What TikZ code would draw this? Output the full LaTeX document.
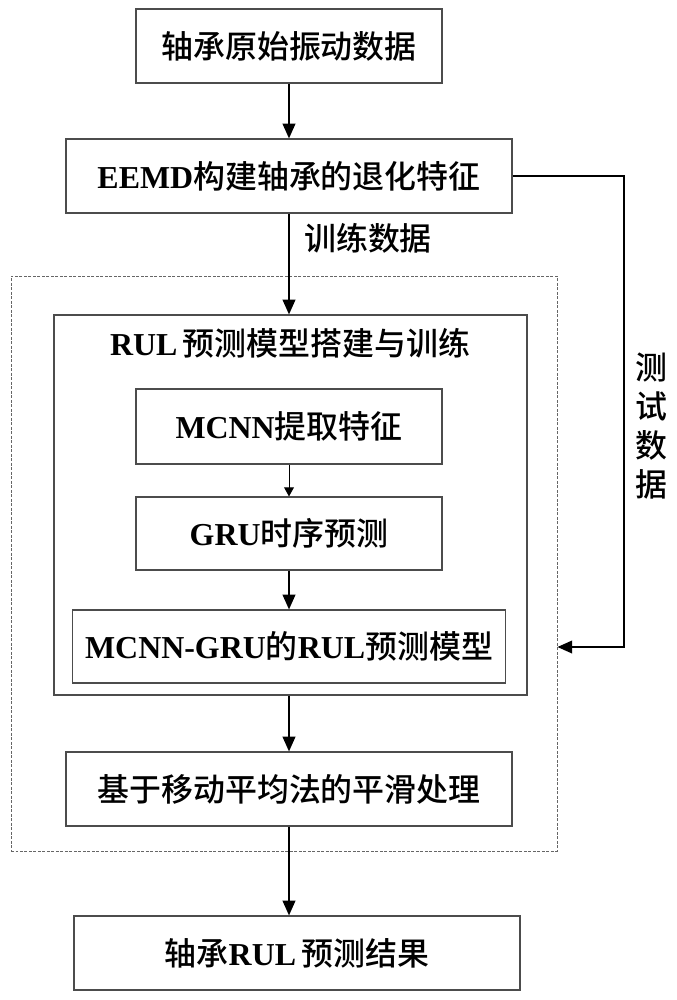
\documentclass[tikz,border=0pt]{standalone}
\usepackage{fontspec}
\setmainfont{Liberation Serif}
\newfontfamily\cjk{Noto Sans CJK SC}[BoldFont={Noto Sans CJK SC Medium}]
\usepackage{tikz}
\usetikzlibrary{positioning,arrows.meta,calc}

\newcommand{\zh}[1]{{\cjk\bfseries #1}}

\tikzset{
  flowbox/.style={draw=black!70, line width=0.8pt, minimum height=74*0.025cm,
    inner sep=0pt, font=\fontsize{22.7}{26}\selectfont\bfseries},
  flowarrow/.style={line width=1.3pt, -{Triangle[length=10.5pt,width=9pt]}},
  thinarrow/.style={line width=0.7pt, -{Triangle[length=6.5pt,width=7pt]}},
  lbl/.style={font=\fontsize{22.7}{27.7}\selectfont, inner sep=0pt}
}

\begin{document}
\begin{tikzpicture}[x=0.025cm, y=-0.025cm]
  \useasboundingbox (0,0) rectangle (677,1000);

  % dashed frame round model and smoothing
  \node[draw=black!60, dashed, dash pattern=on 2pt off 1.2pt, line width=0.6pt,
        minimum width=546*0.025cm, minimum height=575*0.025cm, inner sep=0pt]
        (frame) at (284,563.5) {};

  % training block
  \node[draw=black!70, line width=0.8pt, minimum width=473*0.025cm,
        minimum height=380*0.025cm, inner sep=0pt] (train) at (290.5,505) {};
  \node[lbl, font=\fontsize{22.7}{26}\selectfont\bfseries] (traintitle) at (290,343)
    {RUL\,\zh{预测模型搭建与训练}};

  % main steps
  \node[flowbox, minimum width=306*0.025cm] (raw) at (289,46) {\zh{轴承原始振动数据}};
  \node[flowbox, minimum width=446*0.025cm] (eemd) at (289,176) {EEMD\zh{构建轴承的退化特征}};
  \node[flowbox, minimum width=306*0.025cm, minimum height=75*0.025cm] (mcnn) at (289,426.5) {MCNN\zh{提取特征}};
  \node[flowbox, minimum width=306*0.025cm, minimum height=73*0.025cm] (gru) at (289,533.5) {GRU\zh{时序预测}};
  \node[flowbox, minimum width=433*0.025cm, minimum height=73*0.025cm] (model) at (289,646.5) {MCNN-GRU\zh{的}RUL\zh{预测模型}};
  \node[flowbox, minimum width=446*0.025cm] (smooth) at (289,789) {\zh{基于移动平均法的平滑处理}};
  \node[flowbox, minimum width=446*0.025cm] (result) at (297,953) {\zh{轴承}RUL\,\zh{预测结果}};

  % labels
  \node[lbl] (trainlbl) at (368,238) {\zh{训练数据}};
  \node[lbl, align=center] (testlbl) at (651,426) {\zh{测}\\\zh{试}\\\zh{数}\\\zh{据}};

  % connectors
  \draw[flowarrow] (raw) -- (eemd);
  \draw[flowarrow] (eemd.south) -- (eemd.south |- train.north);
  \draw[thinarrow] (mcnn) -- (gru);
  \draw[flowarrow] (gru) -- (model);
  \draw[flowarrow] (train.south -| smooth.north) -- (smooth.north);
  \draw[flowarrow] (smooth.south) -- (smooth.south |- result.north);
  \coordinate (turn) at (624,647);
  \draw[flowarrow] (eemd.east) -| (turn) -- (frame.east |- turn);
\end{tikzpicture}
\end{document}
